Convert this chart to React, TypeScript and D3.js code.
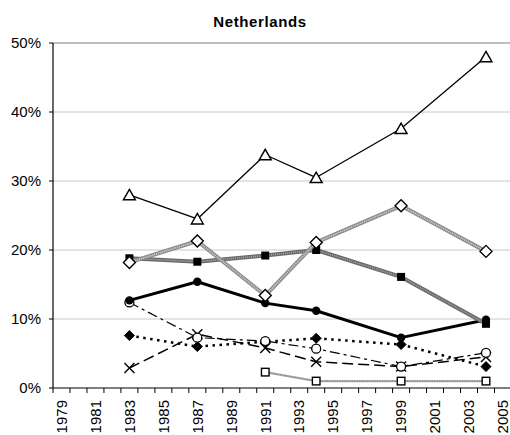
import React from "react";
import * as d3 from "d3";

const title = "Netherlands";
const years = [1983, 1987, 1991, 1994, 1999, 2004];
const tickYears = d3.range(1979, 2006, 2);
const yTicks = [0, 10, 20, 30, 40, 50];

const triangles = [28.0, 24.5, 33.8, 30.5, 37.6, 48.0];
const openDiamonds = [18.2, 21.3, 13.4, 21.1, 26.4, 19.8];
const filledSquares = [18.8, 18.3, 19.2, 20.0, 16.1, 9.3];
const filledCircles = [12.7, 15.4, 12.3, 11.2, 7.3, 9.9];
const openCircles = [12.4, 7.3, 6.8, 5.7, 3.1, 5.1];
const filledDiamonds = [7.6, 6.0, 6.7, 7.2, 6.3, 3.1];
const crosses = [2.9, 7.8, 5.8, 3.8, 3.1, 4.5];
const openSquares = [null, null, 2.3, 1.0, 1.0, 1.0];

const W = 510, H = 435;
const L = 53, T = 43, B = 388;
const yearW = 16.98;

const x = d3.scaleLinear().domain([1978.5, 2005.5]).range([L, L + 27 * yearW]);
const y = d3.scaleLinear().domain([0, 50]).range([B, T]);

type Marker = "triangle" | "openDiamond" | "filledSquare" | "filledCircle" | "openCircle" | "filledDiamond" | "cross" | "openSquare";

interface Series {
  values: (number | null)[];
  marker: Marker;
  strokes: { color: string; width: number; dash?: string }[];
}

const series: Series[] = [
  { values: openSquares, marker: "openSquare", strokes: [{ color: "#b0b0b0", width: 2.2 }, { color: "#6a6a6a", width: 1, dash: "1,1.5" }] },
  { values: crosses, marker: "cross", strokes: [{ color: "#000", width: 1.5, dash: "11,5" }] },
  { values: filledDiamonds, marker: "filledDiamond", strokes: [{ color: "#000", width: 2.5, dash: "2.5,4.5" }] },
  { values: openCircles, marker: "openCircle", strokes: [{ color: "#000", width: 1.2, dash: "10,4,3,4" }] },
  { values: filledCircles, marker: "filledCircle", strokes: [{ color: "#000", width: 3 }] },
  { values: filledSquares, marker: "filledSquare", strokes: [{ color: "#6a6a6a", width: 4 }, { color: "#a8a8a8", width: 1.5, dash: "1,1" }] },
  { values: openDiamonds, marker: "openDiamond", strokes: [{ color: "#8c8c8c", width: 4 }, { color: "#d8d8d8", width: 1.6, dash: "1,1" }] },
  { values: triangles, marker: "triangle", strokes: [{ color: "#000", width: 1.3 }] },
];

function MarkerShape({ m, cx, cy }: { m: Marker; cx: number; cy: number }) {
  switch (m) {
    case "triangle":
      return <path d={`M${cx},${cy - 5.5}L${cx + 6},${cy + 5}L${cx - 6},${cy + 5}Z`} fill="#fff" stroke="#000" strokeWidth={1.4} />;
    case "openDiamond":
      return <path d={`M${cx},${cy - 6}L${cx + 6},${cy}L${cx},${cy + 6}L${cx - 6},${cy}Z`} fill="#fff" stroke="#000" strokeWidth={1.4} />;
    case "filledDiamond":
      return <path d={`M${cx},${cy - 5}L${cx + 5},${cy}L${cx},${cy + 5}L${cx - 5},${cy}Z`} fill="#000" stroke="#000" strokeWidth={1} />;
    case "filledSquare":
      return <rect x={cx - 4} y={cy - 4} width={8} height={8} fill="#000" />;
    case "openSquare":
      return <rect x={cx - 3.8} y={cy - 3.8} width={7.6} height={7.6} fill="#fff" stroke="#000" strokeWidth={1.4} />;
    case "filledCircle":
      return <circle cx={cx} cy={cy} r={4.2} fill="#000" />;
    case "openCircle":
      return <circle cx={cx} cy={cy} r={4.5} fill="#fff" stroke="#000" strokeWidth={1.3} />;
    case "cross":
      return <path d={`M${cx - 5},${cy - 5}L${cx + 5},${cy + 5}M${cx + 5},${cy - 5}L${cx - 5},${cy + 5}`} stroke="#000" strokeWidth={1.4} fill="none" />;
  }
}

export default function App() {
  const line = d3
    .line<[number, number | null]>()
    .defined((d) => d[1] != null)
    .x((d) => x(d[0]))
    .y((d) => y(d[1] as number));

  const boundaries = d3.range(0, 28).map((i) => 1978.5 + i);
  const font = "'Liberation Sans', Arial, sans-serif";

  return (
    <svg width={W} height={H} style={{ position: "absolute", left: 0, top: 0, background: "#fff" }} fontFamily={font}>
      <rect width={W} height={H} fill="#fff" />
      <text x={260} y={27} textAnchor="middle" fontWeight="bold" fontSize={15} letterSpacing={0.6}>{title}</text>
      {yTicks.slice(1, -1).map((t) => (
        <line key={t} x1={L} x2={W} y1={y(t)} y2={y(t)} stroke="#c8c8c8" strokeWidth={1} />
      ))}
      <line x1={L} x2={W} y1={y(50)} y2={y(50)} stroke="#808080" strokeWidth={1.2} />
      {yTicks.map((t) => (
        <g key={t}>
          <line x1={L - 4} x2={L} y1={y(t)} y2={y(t)} stroke="#000" />
          <text x={41} y={y(t)} dy="0.35em" textAnchor="end" fontSize={15}>{t + "%"}</text>
        </g>
      ))}
      {series.map((s, i) => {
        const pts = years.map((yr, j) => [yr, s.values[j]] as [number, number | null]);
        const d = line(pts) || "";
        return (
          <g key={i}>
            {s.strokes.map((st, k) => (
              <path key={k} d={d} fill="none" stroke={st.color} strokeWidth={st.width} strokeDasharray={st.dash} strokeLinejoin="round" />
            ))}
            {pts.filter((p) => p[1] != null).map((p, k) => (
              <MarkerShape key={k} m={s.marker} cx={x(p[0])} cy={y(p[1] as number)} />
            ))}
          </g>
        );
      })}
      <line x1={L} x2={L} y1={T} y2={B} stroke="#000" strokeWidth={1.2} />
      <line x1={L} x2={W} y1={B} y2={B} stroke="#000" strokeWidth={1.2} />
      {boundaries.map((b) => (
        <line key={b} x1={x(b)} x2={x(b)} y1={B} y2={B + 5} stroke="#000" />
      ))}
      {tickYears.map((yr) => (
        <text key={yr} transform={`translate(${x(yr)},400) rotate(-90)`} textAnchor="end" dy="0.35em" fontSize={15}>{yr}</text>
      ))}
    </svg>
  );
}
